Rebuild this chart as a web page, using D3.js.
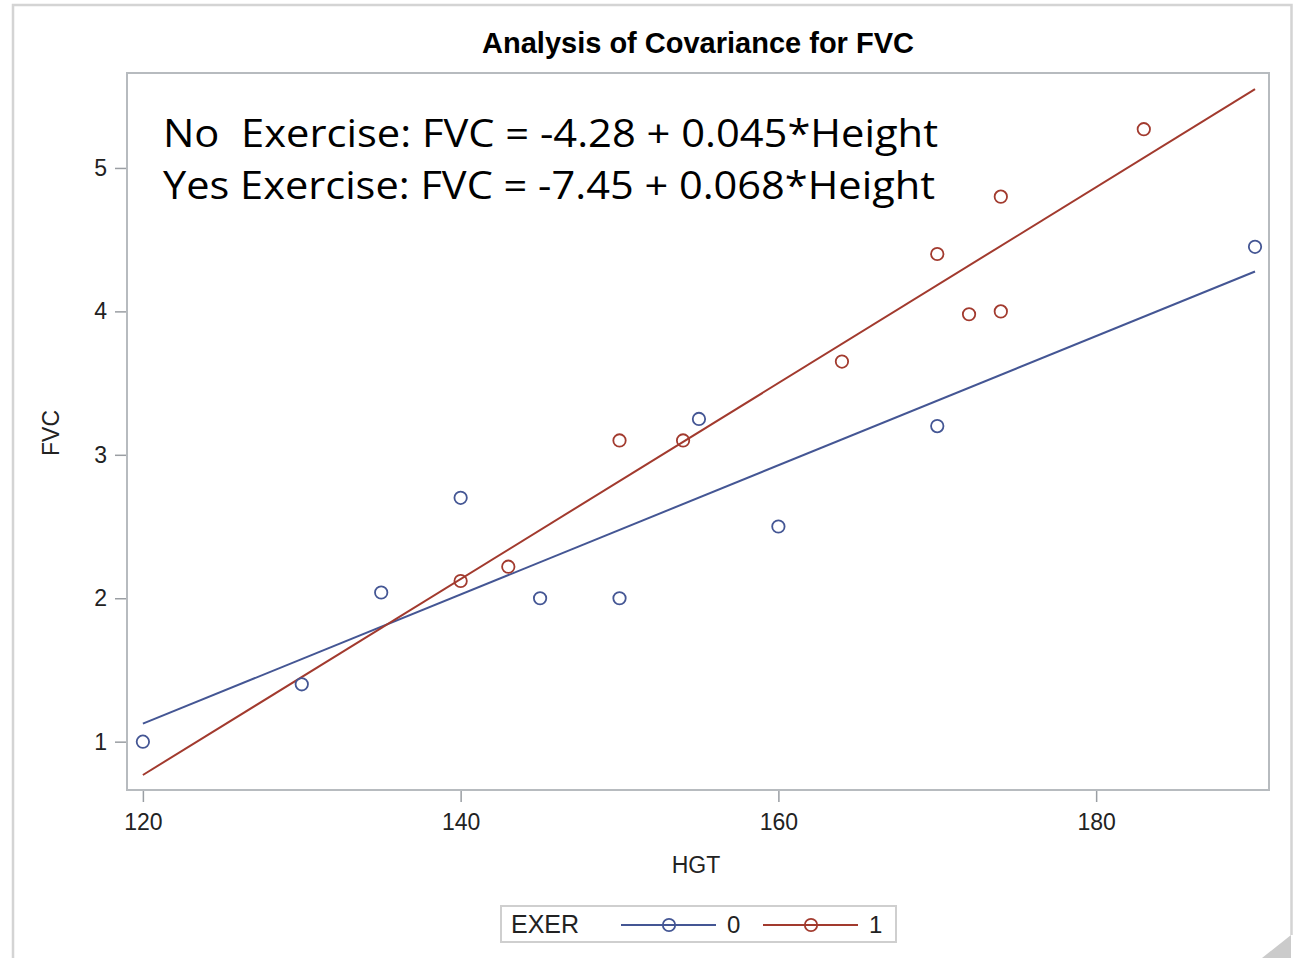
<!DOCTYPE html>
<html>
<head>
<meta charset="utf-8">
<script src="https://cdn.jsdelivr.net/npm/d3@7"></script>
<style>
  body { margin: 0; background: #fff; }
  text { font-family: "Liberation Sans", Arial, sans-serif; fill: #222; }
</style>
</head>
<body>
<div id="chart"></div>
<script>
// data
const hgtNo = [120, 130, 135, 140, 145, 150, 155, 160, 170, 190]
const fvcNo = [1.0, 1.4, 2.04, 2.7, 2.0, 2.0, 3.25, 2.5, 3.2, 4.45]
const hgtYes = [140, 143, 150, 154, 164, 170, 172, 174, 174, 183]
const fvcYes = [2.12, 2.22, 3.1, 3.1, 3.65, 4.4, 3.98, 4.0, 4.8, 5.27]
const exerLevels = ["0", "1"]
const xTicks = [120, 140, 160, 180]
const yTicks = [1, 2, 3, 4, 5]
const notes = [
  "No  Exercise: FVC = -4.28 + 0.045*Height",
  "Yes Exercise: FVC = -7.45 + 0.068*Height"
]
const colors = ["#445694", "#A23A2E"]

const w = 1299
const h = 958
const pLeft = 127, pRight = 1269, pTop = 73, pBottom = 790

const svg = d3.select("#chart")
  .append("svg")
  .attr("width", w)
  .attr("height", h)

// outer frame (screenshot border)
svg.append("path")
  .attr("d", `M13,${h} V5 H1291.5 V935`)
  .attr("fill", "none")
  .attr("stroke", "#d4d4d4")
  .attr("stroke-width", 2.5)
svg.append("path")
  .attr("d", `M1262,${h} L1291,935 L1291,${h} Z`)
  .attr("fill", "#cbcbcb")

const xScale = d3.scaleLinear().domain([119, 190.88]).range([pLeft, pRight])
const yScale = d3.scaleLinear().domain([0.663, 5.662]).range([pBottom, pTop])

// title
svg.append("text")
  .attr("x", (pLeft + pRight) / 2)
  .attr("y", 53)
  .attr("text-anchor", "middle")
  .style("font-weight", "bold")
  .style("font-size", "29px")
  .style("fill", "#000")
  .text("Analysis of Covariance for FVC")

// axes
const xAxis = d3.axisBottom(xScale).tickValues(xTicks).tickSize(12).tickPadding(12).tickSizeOuter(0)
const yAxis = d3.axisLeft(yScale).tickValues(yTicks).tickFormat(d3.format("d"))
  .tickSize(12).tickPadding(8).tickSizeOuter(0)

const gx = svg.append("g")
  .attr("transform", `translate(0,${pBottom})`)
  .call(xAxis)
const gy = svg.append("g")
  .attr("transform", `translate(${pLeft},0)`)
  .call(yAxis)

;[gx, gy].forEach(g => {
  g.select(".domain").remove()
  g.selectAll(".tick line").attr("stroke", "#9a9ea3").attr("stroke-width", 1.5)
  g.selectAll(".tick text")
    .style("font-family", '"Liberation Sans", Arial, sans-serif')
    .style("font-size", "23px")
    .attr("fill", "#333")
})

// plot frame
svg.append("rect")
  .attr("x", pLeft)
  .attr("y", pTop)
  .attr("width", pRight - pLeft)
  .attr("height", pBottom - pTop)
  .attr("fill", "none")
  .attr("stroke", "#b7bbbf")
  .attr("stroke-width", 2)

svg.append("text")
  .attr("x", (pLeft + pRight) / 2 - 2)
  .attr("y", 873)
  .attr("text-anchor", "middle")
  .style("font-size", "23px")
  .text("HGT")
svg.append("text")
  .attr("transform", "rotate(-90)")
  .attr("x", -433)
  .attr("y", 59)
  .attr("text-anchor", "middle")
  .style("font-size", "23px")
  .text("FVC")

// fits
function fit(xs, ys) {
  const mx = d3.mean(xs), my = d3.mean(ys)
  const sxy = d3.sum(xs, (x, i) => (x - mx) * (ys[i] - my))
  const sxx = d3.sum(xs, x => (x - mx) * (x - mx))
  const b = sxy / sxx
  return [my - b * mx, b]
}
const groups = [
  { level: exerLevels[0], xs: hgtNo, ys: fvcNo, color: colors[0] },
  { level: exerLevels[1], xs: hgtYes, ys: fvcYes, color: colors[1] }
]
const xRange = d3.extent(hgtNo.concat(hgtYes))

const plot = svg.append("g")
groups.forEach(g => {
  const [a, b] = fit(g.xs, g.ys)
  plot.append("path")
    .datum(xRange.map(x => [x, a + b * x]))
    .attr("d", d3.line().x(d => xScale(d[0])).y(d => yScale(d[1])))
    .attr("fill", "none")
    .attr("stroke", g.color)
    .attr("stroke-width", 2)
})
groups.forEach(g => {
  plot.selectAll(null)
    .data(g.xs.map((x, i) => [x, g.ys[i]]))
    .enter()
    .append("circle")
    .attr("cx", d => xScale(d[0]))
    .attr("cy", d => yScale(d[1]))
    .attr("r", 6.2)
    .attr("fill", "none")
    .attr("stroke", g.color)
    .attr("stroke-width", 1.8)
})

// equations
const noteWidths = [775, 772]
svg.selectAll(".note")
  .data(notes)
  .enter()
  .append("text")
  .attr("class", "note")
  .attr("x", 163)
  .attr("y", (d, i) => 147 + i * 52)
  .attr("textLength", (d, i) => noteWidths[i])
  .attr("lengthAdjust", "spacingAndGlyphs")
  .style("font-family", '"Open Sans", "Noto Sans", sans-serif')
  .style("font-size", "38px")
  .style("white-space", "pre")
  .style("fill", "#000")
  .text(d => d)

// legend
const legend = svg.append("g")
legend.append("rect")
  .attr("x", 501)
  .attr("y", 906)
  .attr("width", 395)
  .attr("height", 36)
  .attr("fill", "#fff")
  .attr("stroke", "#cfcfcf")
  .attr("stroke-width", 2)
legend.append("text")
  .attr("x", 511)
  .attr("y", 933)
  .style("font-size", "25px")
  .text("EXER")
const lx0 = [621, 763]
groups.forEach((g, i) => {
  const x0 = lx0[i]
  legend.append("line")
    .attr("x1", x0).attr("x2", x0 + 95)
    .attr("y1", 925).attr("y2", 925)
    .attr("stroke", g.color).attr("stroke-width", 2)
  legend.append("circle")
    .attr("cx", x0 + 48).attr("cy", 925).attr("r", 6.2)
    .attr("fill", "none").attr("stroke", g.color).attr("stroke-width", 1.8)
  legend.append("text")
    .attr("x", x0 + 106)
    .attr("y", 933)
    .style("font-size", "24px")
    .text(g.level)
})
</script>
</body>
</html>
